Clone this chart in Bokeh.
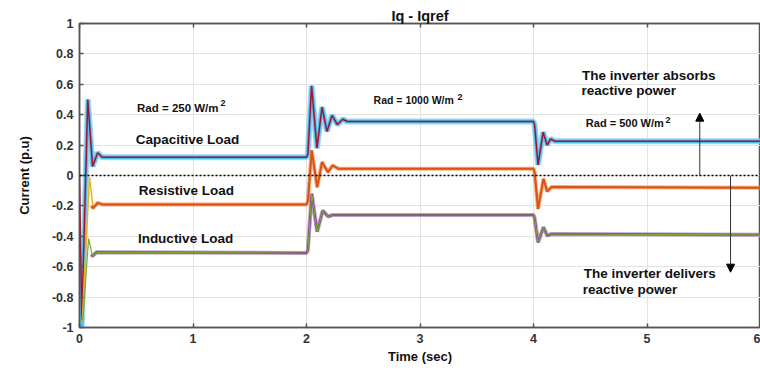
from bokeh.plotting import figure
from bokeh.models import (Range1d, FixedTicker, LinearAxis, Span, Label, Title,
                          Arrow, NormalHead)
from bokeh.embed import file_html
from bokeh.resources import INLINE

# ---- data (time in s, current in p.u.) ----
# Capacitive load
cap_ref_t = [0.0, 0.02, 0.073, 0.115, 0.16, 0.2, 2.0, 2.012, 2.045, 2.092, 2.137,
             2.18, 2.225, 2.272, 2.32, 2.36, 4.0, 4.01, 4.04, 4.085, 4.12, 4.15,
             4.19, 6.0]
cap_ref_v = [0.0, -0.95, 0.50, 0.06, 0.15, 0.12, 0.12, 0.14, 0.59, 0.18, 0.45,
             0.29, 0.395, 0.335, 0.37, 0.355, 0.355, 0.33, 0.07, 0.285, 0.20, 0.24,
             0.225, 0.225]
cap_iq_t = [0.0, 0.02, 0.073, 0.115, 0.16, 0.2, 2.0, 2.012, 2.045, 2.092, 2.137,
            2.18, 2.225, 2.272, 2.32, 2.36, 4.0, 4.01, 4.04, 4.085, 4.12, 4.15,
            4.19, 6.0]
cap_iq_v = [-0.5, -1.0, 0.50, 0.06, 0.15, 0.12, 0.12, 0.14, 0.59, 0.18, 0.45,
            0.29, 0.395, 0.335, 0.37, 0.355, 0.355, 0.33, 0.07, 0.285, 0.20, 0.24,
            0.225, 0.225]

# Resistive load
res_ref_t = [0.0, 0.025, 0.088, 0.12, 0.16, 0.2, 2.0, 2.012, 2.046, 2.094, 2.137,
             2.19, 2.23, 2.28, 4.0, 4.01, 4.04, 4.088, 4.12, 4.16, 6.0]
res_ref_v = [-0.95, -0.95, -0.01, -0.215, -0.18, -0.19, -0.19, -0.17, 0.165, -0.077,
             0.088, 0.022, 0.066, 0.045, 0.045, 0.02, -0.22, -0.022, -0.105, -0.075,
             -0.08]
res_iq_t = [0.105, 0.12, 0.16, 0.2, 2.0, 2.012, 2.046, 2.094, 2.137, 2.19, 2.23,
            2.28, 4.0, 4.01, 4.04, 4.088, 4.12, 4.16, 6.0]
res_iq_v = [-0.2, -0.215, -0.18, -0.19, -0.19, -0.17, 0.165, -0.077, 0.088, 0.022,
            0.066, 0.045, 0.045, 0.02, -0.22, -0.022, -0.105, -0.075, -0.08]

# Inductive load
ind_ref_t = [0.0, 0.03, 0.08, 0.115, 0.15, 2.0, 2.012, 2.046, 2.094, 2.143, 2.19,
             2.23, 4.0, 4.01, 4.04, 4.088, 4.12, 4.16, 6.0]
ind_ref_v = [-0.95, -0.95, -0.415, -0.53, -0.505, -0.51, -0.49, -0.12, -0.37, -0.23,
             -0.27, -0.26, -0.26, -0.28, -0.44, -0.34, -0.395, -0.385, -0.39]
ind_iq_t = [0.105, 0.115, 0.15, 2.0, 2.012, 2.046, 2.094, 2.143, 2.19, 2.23, 4.0,
            4.01, 4.04, 4.088, 4.12, 4.16, 6.0]
ind_iq_v = [-0.52, -0.53, -0.505, -0.51, -0.49, -0.12, -0.37, -0.23, -0.27, -0.26,
            -0.26, -0.28, -0.44, -0.34, -0.395, -0.385, -0.39]

x_ticks = [0, 1, 2, 3, 4, 5, 6]
x_tick_labels = ["0", "1", "2", "3", "4", "5", "6"]
y_ticks = [-1.0, -0.8, -0.6, -0.4, -0.2, 0.0, 0.2, 0.4, 0.6, 0.8, 1.0]
y_tick_labels = ["-1", "-0.8", "-0.6", "-0.4", "-0.2", "0", "0.2", "0.4", "0.6",
                 "0.8", "1"]

FONT = "Liberation Sans"
TEXT = "#111111"
AXIS = "#555555"

p = figure(width=760, height=371, output_backend="svg", toolbar_location=None,
           x_range=Range1d(0, 6), y_range=Range1d(-1, 1),
           min_border_left=79, min_border_right=0, min_border_top=23,
           min_border_bottom=44)
p.outline_line_color = AXIS
p.outline_line_width = 1.5
p.background_fill_color = "white"
p.border_fill_color = "white"

# title
p.title.text = "Iq - Iqref"
p.title.align = "center"
p.title.text_font = FONT
p.title.text_font_style = "bold"
p.title.text_font_size = "14.5px"
p.title.text_color = TEXT
p.title.standoff = 0

# grid
p.xgrid.ticker = FixedTicker(ticks=x_ticks)
p.ygrid.ticker = FixedTicker(ticks=y_ticks)
for g in (p.xgrid, p.ygrid):
    g.grid_line_color = "#e3e3e3"
    g.grid_line_width = 1

# axes
def style_axis(ax):
    ax.axis_line_color = AXIS
    ax.axis_line_width = 1.5
    ax.major_tick_line_color = AXIS
    ax.major_tick_line_width = 1.5
    ax.major_tick_in = 4
    ax.major_tick_out = 0
    ax.minor_tick_line_color = None
    ax.major_label_text_font = FONT
    ax.major_label_text_font_style = "bold"
    ax.major_label_text_font_size = "12.5px"
    ax.major_label_text_color = "#333333"
    ax.axis_label_text_font = FONT
    ax.axis_label_text_font_style = "bold"
    ax.axis_label_text_font_size = "13px"
    ax.axis_label_text_color = TEXT

xa = p.xaxis[0]
xa.ticker = FixedTicker(ticks=x_ticks)
xa.major_label_overrides = dict(zip(x_ticks, x_tick_labels))
xa.axis_label = "Time (sec)"
xa.major_label_standoff = 6
xa.axis_label_standoff = 3
style_axis(xa)

ya = p.yaxis[0]
ya.ticker = FixedTicker(ticks=y_ticks)
ya.major_label_overrides = dict(zip(y_ticks, y_tick_labels))
ya.major_label_standoff = 6
style_axis(ya)

# box-style top edge with inward ticks, no labels
top = LinearAxis(ticker=FixedTicker(ticks=x_ticks))
style_axis(top)
top.major_label_overrides = {t: "" for t in x_ticks}
top.major_label_text_font_size = "1px"
top.major_label_standoff = 0
p.add_layout(top, "above")

# vertical axis caption, kept towards the outer edge of its panel
p.add_layout(Title(text="Current (p.u)", align="center", offset=17,
                   vertical_align="top", standoff=30,
                   text_font=FONT, text_font_style="bold", text_font_size="13px",
                   text_color=TEXT), "left")

# zero reference
p.add_layout(Span(location=0, dimension="width", line_color="black",
                  line_width=1.5, line_dash="2 2"))

# traces: ripple band for measured Iq, thin line for Iqref
p.line(cap_iq_t, cap_iq_v, line_color="#7FD0F2", line_width=6, line_alpha=0.8)
p.line(cap_iq_t, cap_iq_v, line_color="#4DBEEE", line_width=3.5)
p.line(cap_ref_t, cap_ref_v, line_color="#A2142F", line_width=1.5)

p.line(res_ref_t, res_ref_v, line_color="#EDB120", line_width=1.5)
p.line(res_iq_t, res_iq_v, line_color="#F08A4B", line_width=4, line_alpha=0.7)
p.line(res_iq_t, res_iq_v, line_color="#D95319", line_width=2)

p.line(ind_iq_t, ind_iq_v, line_color="#A86BB5", line_width=4, line_alpha=0.7)
p.line(ind_iq_t, ind_iq_v, line_color="#7E2F8E", line_width=2)
p.line(ind_ref_t, ind_ref_v, line_color="#77AC30", line_width=1.2)

def label(x, y, text, size="13.5px", align="left", baseline="middle"):
    p.add_layout(Label(x=x, y=y, text=text, text_font=FONT, text_font_style="bold",
                       text_font_size=size, text_color=TEXT, text_align=align,
                       text_baseline=baseline))

# load names
label(0.952, 0.24, "Capacitive Load", align="center")
label(0.941, -0.099, "Resistive Load", align="center")
label(0.934, -0.412, "Inductive Load", align="center")

# irradiance steps
label(1.225, 0.447, "Rad = 250 W/m", size="11.5px", align="right")
label(1.242, 0.474, "2", size="9px")
label(3.298, 0.498, "Rad = 1000 W/m", size="10.5px", align="right")
label(3.33, 0.515, "2", size="9px")
label(5.148, 0.344, "Rad = 500 W/m", size="11px", align="right")
label(5.163, 0.364, "2", size="9px")

# inverter notes
label(4.428, 0.655, "The inverter absorbs")
label(4.423, 0.559, "reactive power")
label(4.443, -0.643, "The inverter delivers")
label(4.434, -0.747, "reactive power")

p.add_layout(Arrow(end=NormalHead(size=8, fill_color="black", line_color="black"),
                   x_start=5.465, y_start=0.0, x_end=5.465, y_end=0.41,
                   line_color="#333333", line_width=1))
p.add_layout(Arrow(end=NormalHead(size=8, fill_color="black", line_color="black"),
                   x_start=5.736, y_start=0.0, x_end=5.736, y_end=-0.636,
                   line_color="#333333", line_width=1))

open("out.html", "w").write(file_html(p, INLINE))
